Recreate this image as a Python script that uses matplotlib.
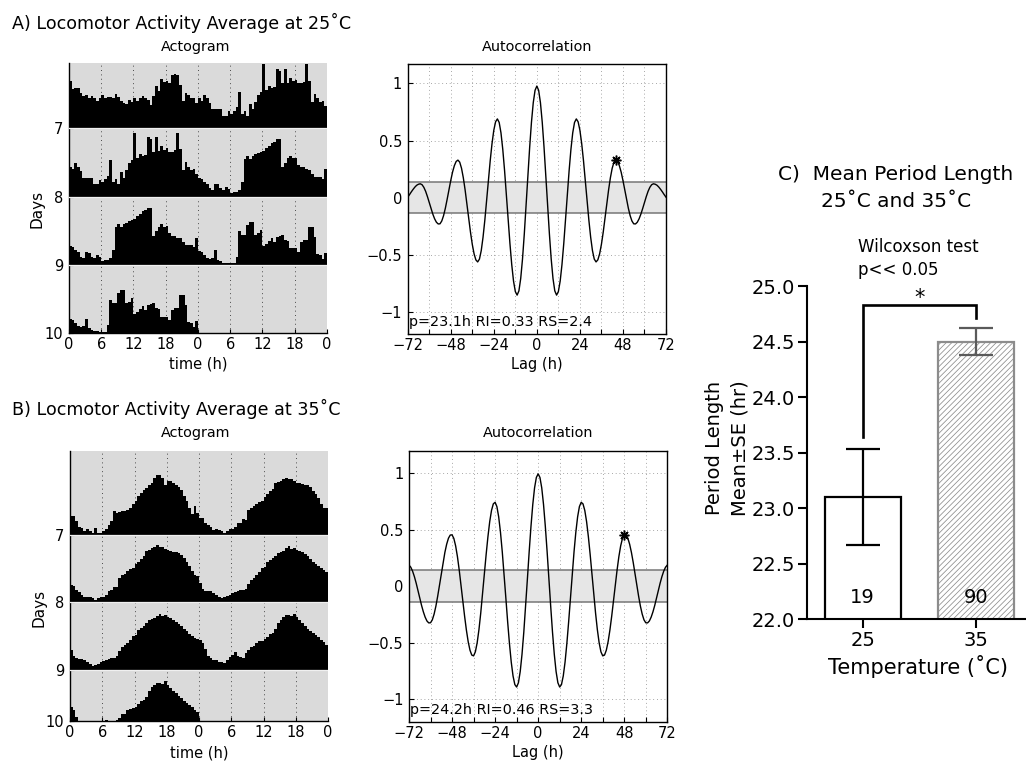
import numpy as np
import matplotlib
matplotlib.use("Agg")
import matplotlib.pyplot as plt

# ---------------------------------------------------------------- data
BIN_H = 0.5  # hours per actogram bin

# Actogram A (25 C): 4 consecutive days, 48 half-hour bins each (double plotted)
A_DAY1 = [0.69, 0.58, 0.60, 0.60, 0.52, 0.47, 0.49, 0.45, 0.47, 0.44,
          0.41, 0.44, 0.49, 0.44, 0.46, 0.46, 0.45, 0.51, 0.46, 0.41,
          0.37, 0.36, 0.42, 0.39, 0.44, 0.41, 0.45, 0.47, 0.45, 0.42,
          0.34, 0.47, 0.62, 0.55, 0.72, 0.68, 0.70, 0.66, 0.78, 0.80,
          0.78, 0.64, 0.40, 0.52, 0.49, 0.44, 0.45, 0.38]
A_DAY2 = [0.44, 0.40, 0.49, 0.44, 0.38, 0.28, 0.28, 0.28, 0.28, 0.19,
          0.19, 0.25, 0.21, 0.26, 0.31, 0.54, 0.21, 0.26, 0.18, 0.36,
          0.28, 0.39, 0.49, 0.54, 0.94, 0.56, 0.62, 0.60, 0.61, 0.87,
          0.84, 0.66, 0.87, 0.67, 0.74, 0.69, 0.71, 0.66, 0.66, 0.68,
          0.94, 0.70, 0.39, 0.51, 0.44, 0.39, 0.40, 0.33]
A_DAY3 = [0.27, 0.26, 0.21, 0.19, 0.12, 0.10, 0.19, 0.18, 0.12, 0.10,
          0.14, 0.11, 0.06, 0.07, 0.07, 0.10, 0.21, 0.55, 0.60, 0.55,
          0.60, 0.62, 0.64, 0.66, 0.67, 0.72, 0.75, 0.79, 0.80, 0.84,
          0.84, 0.43, 0.50, 0.56, 0.60, 0.56, 0.57, 0.47, 0.43, 0.43,
          0.40, 0.39, 0.33, 0.29, 0.29, 0.29, 0.26, 0.40]
A_DAY4 = [0.20, 0.19, 0.14, 0.10, 0.09, 0.10, 0.21, 0.07, 0.05, 0.03,
          0.03, 0.02, 0.02, 0.02, 0.12, 0.49, 0.44, 0.44, 0.59, 0.63,
          0.63, 0.44, 0.46, 0.51, 0.28, 0.31, 0.35, 0.39, 0.34, 0.41,
          0.43, 0.44, 0.37, 0.35, 0.24, 0.24, 0.24, 0.19, 0.34, 0.36,
          0.37, 0.55, 0.55, 0.41, 0.16, 0.14, 0.09, 0.17]

# Actogram B (35 C)
B_DAY1 = [0.27, 0.27, 0.20, 0.12, 0.10, 0.05, 0.08, 0.05, 0.03, 0.10,
          0.02, 0.03, 0.05, 0.08, 0.14, 0.21, 0.35, 0.32, 0.34, 0.35,
          0.35, 0.37, 0.40, 0.45, 0.50, 0.58, 0.62, 0.66, 0.69, 0.74,
          0.76, 0.84, 0.89, 0.88, 0.84, 0.73, 0.80, 0.79, 0.77, 0.73,
          0.71, 0.66, 0.58, 0.50, 0.40, 0.30, 0.42, 0.32]
B_DAY2 = [0.25, 0.24, 0.18, 0.15, 0.11, 0.07, 0.08, 0.07, 0.06, 0.03,
          0.06, 0.08, 0.08, 0.11, 0.17, 0.18, 0.23, 0.22, 0.36, 0.40,
          0.42, 0.46, 0.49, 0.50, 0.56, 0.60, 0.64, 0.68, 0.76, 0.78,
          0.80, 0.82, 0.84, 0.82, 0.82, 0.79, 0.77, 0.76, 0.75, 0.74,
          0.73, 0.70, 0.65, 0.60, 0.54, 0.46, 0.40, 0.39]
B_DAY3 = [0.29, 0.20, 0.17, 0.16, 0.16, 0.14, 0.11, 0.08, 0.06, 0.07,
          0.09, 0.11, 0.13, 0.15, 0.16, 0.18, 0.18, 0.20, 0.27, 0.33,
          0.36, 0.40, 0.44, 0.50, 0.52, 0.59, 0.62, 0.65, 0.69, 0.73,
          0.75, 0.76, 0.80, 0.83, 0.79, 0.81, 0.78, 0.76, 0.74, 0.71,
          0.68, 0.64, 0.60, 0.57, 0.53, 0.50, 0.47, 0.45]
B_DAY4 = [0.44, 0.40, 0.30, 0.21, 0.18, 0.15, 0.14, 0.12, 0.12, 0.10,
          0.14, 0.19, 0.22, 0.26, 0.21, 0.19, 0.17, 0.25, 0.29, 0.34,
          0.35, 0.40, 0.42, 0.43, 0.45, 0.49, 0.53, 0.55, 0.60, 0.69,
          0.74, 0.78, 0.81, 0.81, 0.79, 0.83, 0.78, 0.73, 0.69, 0.65,
          0.61, 0.58, 0.54, 0.51, 0.48, 0.44, 0.41, 0.37]

A_DAYS = [A_DAY1, A_DAY2, A_DAY3, A_DAY4]
B_DAYS = [B_DAY1, B_DAY2, B_DAY3, B_DAY4]
DAY_ROWS = [7, 8, 9, 10]
DAY_LABELS = ["7", "8", "9", "10"]
ACTO_XTICKS = [0, 6, 12, 18, 24, 30, 36, 42, 48]
ACTO_XLABELS = ["0", "6", "12", "18", "0", "6", "12", "18", "0"]

# Autocorrelation (symmetric): values for lags 0..72 h
LAG_HALF = list(range(0, 73))
ACF_A_HALF = [0.977, 0.940, 0.832, 0.662, 0.443, 0.194, -0.067, -0.316, -0.535, -0.705,
              -0.813, -0.850, -0.819, -0.728, -0.584, -0.400, -0.190, 0.030, 0.240, 0.424,
              0.568, 0.659, 0.690, 0.665, 0.591, 0.474, 0.325, 0.154, -0.024, -0.195,
              -0.344, -0.461, -0.535, -0.560, -0.542, -0.489, -0.406, -0.300, -0.178, -0.052,
              0.070, 0.176, 0.259, 0.312, 0.330, 0.318, 0.281, 0.225, 0.152, 0.071,
              -0.012, -0.090, -0.155, -0.202, -0.227, -0.228, -0.213, -0.183, -0.142, -0.093,
              -0.040, 0.011, 0.057, 0.092, 0.115, 0.123, 0.119, 0.110, 0.094, 0.074,
              0.052, 0.028, 0.006]
ACF_B_HALF = [0.995, 0.963, 0.871, 0.723, 0.530, 0.306, 0.063, -0.179, -0.407, -0.603,
              -0.756, -0.855, -0.893, -0.871, -0.795, -0.672, -0.508, -0.316, -0.106, 0.105,
              0.304, 0.477, 0.614, 0.705, 0.743, 0.729, 0.671, 0.572, 0.438, 0.280,
              0.107, -0.069, -0.237, -0.384, -0.501, -0.581, -0.617, -0.610, -0.567, -0.492,
              -0.389, -0.266, -0.130, 0.010, 0.143, 0.262, 0.357, 0.423, 0.455, 0.453,
              0.425, 0.372, 0.299, 0.210, 0.111, 0.010, -0.088, -0.176, -0.247, -0.298,
              -0.324, -0.325, -0.308, -0.274, -0.227, -0.170, -0.105, -0.038, 0.027, 0.085,
              0.133, 0.168, 0.187]
ACF_A_STAR_LAG = 44
ACF_B_STAR_LAG = 48
CONF_A = 0.135
CONF_B = 0.14
ACF_A_TEXT = "p=23.1h RI=0.33 RS=2.4"
ACF_B_TEXT = "p=24.2h RI=0.46 RS=3.3"
ACF_XTICKS = list(range(-72, 73, 12))
ACF_YTICKS = [-1, -0.5, 0, 0.5, 1]

# Panel C
TEMPS = ["25", "35"]
MEAN_PERIOD = [23.10, 24.50]
SE_PERIOD = [0.43, 0.12]
N_FLIES = ["19", "90"]
C_YTICKS = [22.0, 22.5, 23.0, 23.5, 24.0, 24.5, 25.0]
BRACKET_TOP = 24.83

# ---------------------------------------------------------------- figure
plt.rcParams["font.family"] = ["DejaVu Sans"]
plt.rcParams["hatch.linewidth"] = 0.55
W, H = 1026, 763
fig = plt.figure(figsize=(W / 100, H / 100), dpi=100)


def add_ax(left, top, right, bottom):
    return fig.add_axes([left / W, 1 - bottom / H, (right - left) / W, (bottom - top) / H])


def ftext(x, y, s, **kw):
    return fig.text(x / W, 1 - y / H, s, **kw)


def minus(v):
    s = ("%g" % v)
    return s.replace("-", "\u2212")


def draw_actogram(ax, days, ybottom, ytop):
    ax.set_facecolor("#dadada")
    ax.set_xlim(0, 48)
    ax.set_ylim(ybottom, ytop)
    for h in ACTO_XTICKS[1:]:
        ax.axvline(h, color="#4a4a4a", lw=0.7, ls=(0, (1, 3.5)), zorder=1)
    for r, base in enumerate(DAY_ROWS):
        vals = list(days[r])
        if r + 1 < len(days):
            vals += list(days[r + 1])
        v = np.array(vals)
        x = np.arange(len(v) + 1) * BIN_H
        y = np.append(v, v[-1])
        ax.fill_between(x, base, base - y, step="post", facecolor="black",
                        edgecolor="none", lw=0, zorder=2)
        if base < ybottom:
            ax.axhline(base, color="#f0f0f0", lw=0.9, zorder=3)
    ax.set_xticks(ACTO_XTICKS)
    ax.set_xticklabels(ACTO_XLABELS)
    ax.set_yticks([min(b, ybottom) for b in DAY_ROWS])
    ax.set_yticklabels(DAY_LABELS)
    ax.tick_params(direction="in", length=3, width=0.8, labelsize=10.5)
    ax.tick_params(axis="x", pad=3)
    ax.tick_params(axis="y", pad=4)
    for s in ("top", "right"):
        ax.spines[s].set_visible(False)
    for s in ("left", "bottom"):
        ax.spines[s].set_color("black")
        ax.spines[s].set_linewidth(1.0)


def draw_acf(ax, half, star_lag, conf, ylim, label):
    lags = np.concatenate([-np.array(LAG_HALF[:0:-1]), np.array(LAG_HALF)])
    vals = np.concatenate([np.array(half[:0:-1]), np.array(half)])
    ax.set_xlim(-72, 72)
    ax.set_ylim(*ylim)
    ax.axhspan(-conf, conf, facecolor="#e6e6e6", edgecolor="none", zorder=1)
    ax.axhline(conf, color="#777777", lw=1.1, zorder=1.2)
    ax.axhline(-conf, color="#777777", lw=1.1, zorder=1.2)
    ax.plot(lags, vals, color="black", lw=1.0, zorder=3)
    ax.plot([star_lag], [half[LAG_HALF.index(star_lag)]], ls="none",
            marker=(8, 2, 0), ms=7, mew=1.1, color="black", zorder=4)
    ax.set_xticks(ACF_XTICKS)
    ax.set_xticklabels([minus(t) if t % 24 == 0 else "" for t in ACF_XTICKS])
    ax.set_yticks(ACF_YTICKS)
    ax.set_yticklabels([minus(t) for t in ACF_YTICKS])
    ax.grid(True, ls=(0, (1, 3.5)), color="#8a8a8a", lw=0.6)
    ax.set_axisbelow(True)
    ax.tick_params(direction="in", length=3.5, width=0.8, labelsize=10.5)
    ax.tick_params(axis="x", pad=3)
    ax.tick_params(axis="y", pad=4)
    for s in ax.spines.values():
        s.set_linewidth(1.0)
        s.set_color("black")
    ax.text(0.004, 0.045, label, transform=ax.transAxes, ha="left", va="center",
            fontsize=10.4, zorder=5)


# ---- Panel A
ftext(12, 23.3, "A) Locomotor Activity Average at 25\u02daC", ha="left", va="center", fontsize=12.6)
axA1 = add_ax(69, 63, 327, 333)
draw_actogram(axA1, A_DAYS, 10.0, 6.04)
axA2 = add_ax(407.7, 64, 666, 334)
draw_acf(axA2, ACF_A_HALF, ACF_A_STAR_LAG, CONF_A, (-1.19, 1.17), ACF_A_TEXT)
ftext(196, 46.5, "Actogram", ha="center", va="center", fontsize=10.4)
ftext(537, 46.7, "Autocorrelation", ha="center", va="center", fontsize=10.4)
ftext(37, 209, "Days", rotation=90, ha="center", va="center", fontsize=11)
ftext(198, 364, "time (h)", ha="center", va="center", fontsize=10.5)
ftext(537, 364, "Lag (h)", ha="center", va="center", fontsize=10.5)

# ---- Panel B
ftext(12, 409.3, "B) Locmotor Activity Average at 35\u02daC", ha="left", va="center", fontsize=12.6)
axB1 = add_ax(70, 450.7, 328, 721)
draw_actogram(axB1, B_DAYS, 9.76, 5.756)
axB2 = add_ax(409, 450.7, 667.3, 721.7)
draw_acf(axB2, ACF_B_HALF, ACF_B_STAR_LAG, CONF_B, (-1.2, 1.2), ACF_B_TEXT)
ftext(196, 433.3, "Actogram", ha="center", va="center", fontsize=10.4)
ftext(538, 433.3, "Autocorrelation", ha="center", va="center", fontsize=10.4)
ftext(39, 608, "Days", rotation=90, ha="center", va="center", fontsize=11)
ftext(199, 753, "time (h)", ha="center", va="center", fontsize=10.5)
ftext(538, 753, "Lag (h)", ha="center", va="center", fontsize=10.5)

# ---- Panel C
axC = add_ax(806.7, 286, 1026, 619.3)
axC.set_xlim(-0.494, 1.441)
axC.set_ylim(C_YTICKS[0], C_YTICKS[-1])
xpos = np.arange(len(TEMPS))
b1 = axC.bar(xpos[0], MEAN_PERIOD[0], width=0.668, facecolor="white",
             edgecolor="black", linewidth=1.6, zorder=2)
b2 = axC.bar(xpos[1], MEAN_PERIOD[1], width=0.668, facecolor="white",
             edgecolor="#8c8c8c", linewidth=1.6, hatch="//////", zorder=2)
for i, col in enumerate(["black", "#5a5a5a"]):
    axC.errorbar(xpos[i], MEAN_PERIOD[i], yerr=SE_PERIOD[i], fmt="none", ecolor=col,
                 elinewidth=1.6, capsize=12.5, capthick=1.6, zorder=3)
left_low = MEAN_PERIOD[0] + SE_PERIOD[0] + 0.11
right_low = MEAN_PERIOD[1] + SE_PERIOD[1] + 0.09
axC.plot([xpos[0], xpos[0], xpos[1], xpos[1]],
         [left_low, BRACKET_TOP, BRACKET_TOP, right_low],
         color="black", lw=1.9, solid_joinstyle="miter", zorder=3, clip_on=False)
axC.text((xpos[0] + xpos[1]) / 2, BRACKET_TOP + 0.06, "*", ha="center", va="center",
         fontsize=15)
for i, n in enumerate(N_FLIES):
    axC.text(xpos[i], 22.2, n, ha="center", va="center", fontsize=14, zorder=4)
axC.set_xticks(xpos)
axC.set_xticklabels(TEMPS)
axC.set_yticks(C_YTICKS)
axC.set_yticklabels(["%.1f" % t for t in C_YTICKS])
axC.tick_params(direction="out", length=6.5, width=1.5, labelsize=14, pad=2)
for s in ("top", "right"):
    axC.spines[s].set_visible(False)
for s in ("left", "bottom"):
    axC.spines[s].set_linewidth(1.5)
    axC.spines[s].set_color("black")

ftext(896, 175, "C)  Mean Period Length", ha="center", va="center", fontsize=14.5)
ftext(896, 201.7, "25\u02daC and 35\u02daC", ha="center", va="center", fontsize=14.5)
ftext(857.7, 246.7, "Wilcoxson test", ha="left", va="center", fontsize=12)
ftext(857.7, 270, "p<< 0.05", ha="left", va="center", fontsize=12)
ftext(715, 448, "Period Length", rotation=90, ha="center", va="center", fontsize=14)
ftext(740, 448, "Mean\u00b1SE (hr)", rotation=90, ha="center", va="center", fontsize=14)
ftext(917.5, 666.7, "Temperature (\u02daC)", ha="center", va="center", fontsize=15)

fig.savefig("out.png", dpi=100)
